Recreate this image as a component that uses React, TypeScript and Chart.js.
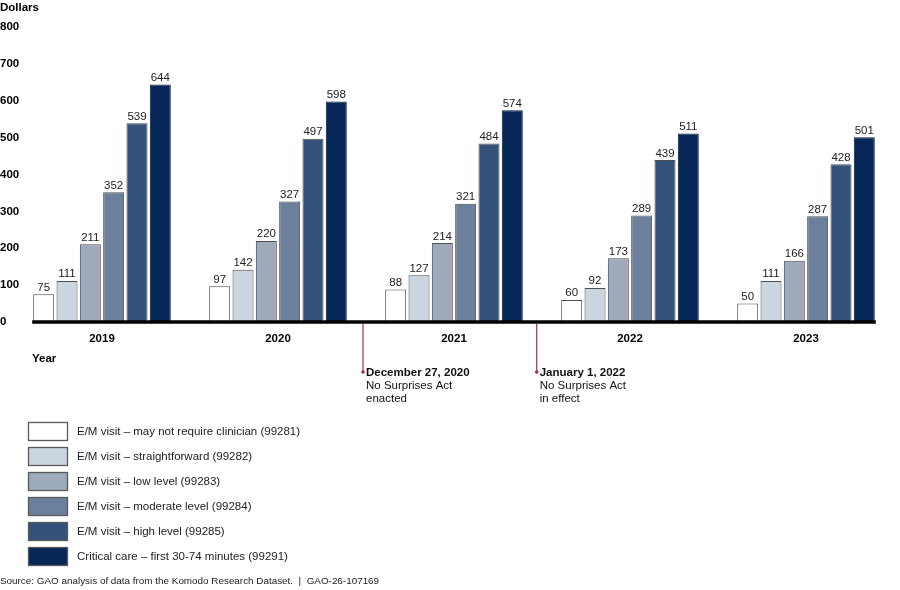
import React, { useEffect, useRef } from "react";
import { Chart, registerables } from "chart.js";

Chart.register(...registerables);

const years = ["2019", "2020", "2021", "2022", "2023"];
const seriesLabels = [
  "E/M visit \u2013 may not require clinician (99281)",
  "E/M visit \u2013 straightforward (99282)",
  "E/M visit \u2013 low level (99283)",
  "E/M visit \u2013 moderate level (99284)",
  "E/M visit \u2013 high level (99285)",
  "Critical care \u2013 first 30-74 minutes (99291)",
];
const s99281 = [75, 97, 88, 60, 50];
const s99282 = [111, 142, 127, 92, 111];
const s99283 = [211, 220, 214, 173, 166];
const s99284 = [352, 327, 321, 289, 287];
const s99285 = [539, 497, 484, 439, 428];
const s99291 = [644, 598, 574, 511, 501];
const seriesValues = [s99281, s99282, s99283, s99284, s99285, s99291];
const seriesColors = ["#ffffff", "#cbd5df", "#9dabbd", "#6a809c", "#34527a", "#062657"];
const yMin = 0;
const yMax = 800;
const yStep = 100;

const eventPositions = [1.483, 2.47];
const eventTitles = ["December 27, 2020", "January 1, 2022"];
const eventLines = [
  ["No Surprises Act", "enacted"],
  ["No Surprises Act", "in effect"],
];

const yTitle = "Dollars";
const xTitle = "Year";
const sourceNote =
  "Source: GAO analysis of data from the Komodo Research Dataset.  |  GAO-26-107169";

const FONT = "'Liberation Sans', Arial, Helvetica, sans-serif";

const decorPlugin = {
  id: "decor",
  afterDatasetsDraw(chart: any) {
    const ctx = chart.ctx;
    const xs = chart.scales.x;
    const ys = chart.scales.y;
    const y0 = ys.getPixelForValue(0);
    ctx.save();

    // value labels
    ctx.font = `11.5px ${FONT}`;
    ctx.fillStyle = "#222";
    ctx.textAlign = "center";
    ctx.textBaseline = "bottom";
    chart.data.datasets.forEach((ds: any, di: number) => {
      const meta = chart.getDatasetMeta(di);
      meta.data.forEach((bar: any, i: number) => {
        ctx.fillText(String(ds.data[i]), bar.x, bar.y - 1);
      });
    });

    // baseline across bar groups
    const firstMeta = chart.getDatasetMeta(0);
    const lastMeta = chart.getDatasetMeta(chart.data.datasets.length - 1);
    const fb = firstMeta.data[0];
    const lb = lastMeta.data[lastMeta.data.length - 1];
    ctx.strokeStyle = "#000";
    ctx.lineWidth = 3.5;
    ctx.beginPath();
    ctx.moveTo(fb.x - fb.width / 2 - 1, y0);
    ctx.lineTo(lb.x + lb.width / 2 + 1, y0);
    ctx.stroke();

    // event markers
    eventPositions.forEach((p, k) => {
      const x = xs.getPixelForValue(p);
      ctx.strokeStyle = "#a3304f";
      ctx.lineWidth = 1.2;
      ctx.beginPath();
      ctx.moveTo(x, y0 + 2);
      ctx.lineTo(x, y0 + 50);
      ctx.stroke();
      ctx.fillStyle = "#a3304f";
      ctx.beginPath();
      ctx.arc(x, y0 + 50, 1.8, 0, Math.PI * 2);
      ctx.fill();
      ctx.fillStyle = "#111";
      ctx.textAlign = "left";
      ctx.textBaseline = "middle";
      ctx.font = `bold 11.5px ${FONT}`;
      ctx.fillText(eventTitles[k], x + 3, y0 + 50.5);
      ctx.font = `11.5px ${FONT}`;
      eventLines[k].forEach((t, j) => {
        ctx.fillText(t, x + 3, y0 + 64 + j * 13);
      });
    });

    // axis titles
    ctx.fillStyle = "#000";
    ctx.textAlign = "left";
    ctx.textBaseline = "middle";
    ctx.font = `bold 11.5px ${FONT}`;
    ctx.fillText(yTitle, 0, 8);
    ctx.font = `bold 11.5px ${FONT}`;
    ctx.fillText(xTitle, 32, 359);

    // legend
    chart.data.datasets.forEach((ds: any, di: number) => {
      const top = 422 + di * 25;
      ctx.fillStyle = ds.backgroundColor;
      ctx.fillRect(28, top, 40, 19);
      ctx.strokeStyle = "#5a5a5a";
      ctx.lineWidth = 1.3;
      ctx.strokeRect(28.5, top + 0.5, 39, 18);
      ctx.fillStyle = "#222";
      ctx.font = `11.5px ${FONT}`;
      ctx.textAlign = "left";
      ctx.textBaseline = "middle";
      ctx.fillText(ds.label, 77, top + 10);
    });

    // source
    ctx.font = `9.9px ${FONT}`;
    ctx.fillStyle = "#222";
    ctx.fillText(sourceNote, 0, 581);

    ctx.restore();
  },
};

export default function App() {
  const ref = useRef<HTMLCanvasElement | null>(null);

  useEffect(() => {
    if (!ref.current) return;
    const chart = new Chart(ref.current, {
      type: "bar",
      data: {
        labels: years,
        datasets: seriesValues.map((vals, i) => ({
          label: seriesLabels[i],
          data: vals,
          backgroundColor: seriesColors[i],
          borderColor: i === 5 ? "#0b1d3d" : "#4d4d4d",
          borderWidth: 1,
          categoryPercentage: 0.795,
          barPercentage: 0.9,
        })),
      },
      options: {
        responsive: false,
        animation: false,
        events: [],
        layout: { padding: { left: 0, top: 27, right: 6, bottom: 238 } },
        plugins: {
          legend: { display: false },
          tooltip: { enabled: false },
          title: { display: false },
        },
        scales: {
          x: {
            grid: { display: false, drawTicks: false },
            border: { display: false },
            ticks: {
              padding: 10,
              color: "#000",
              font: { family: FONT, size: 11.5, weight: "bold" },
            },
            afterFit: (scale: any) => {
              scale.height = 30;
            },
          },
          y: {
            min: yMin,
            max: yMax,
            grid: { display: false, drawTicks: false },
            border: { display: false },
            ticks: {
              stepSize: yStep,
              mirror: true,
              padding: -14,
              crossAlign: "near",
              color: "#000",
              font: { family: FONT, size: 11.5, weight: "bold" },
            },
            afterFit: (scale: any) => {
              scale.width = 14;
            },
          },
        },
      },
      plugins: [decorPlugin],
    } as any);
    return () => chart.destroy();
  }, []);

  return (
    <div style={{ position: "absolute", left: 0, top: 0, width: 900, height: 590, background: "#fff" }}>
      <canvas ref={ref} width={900} height={590} style={{ width: 900, height: 590 }} />
    </div>
  );
}
